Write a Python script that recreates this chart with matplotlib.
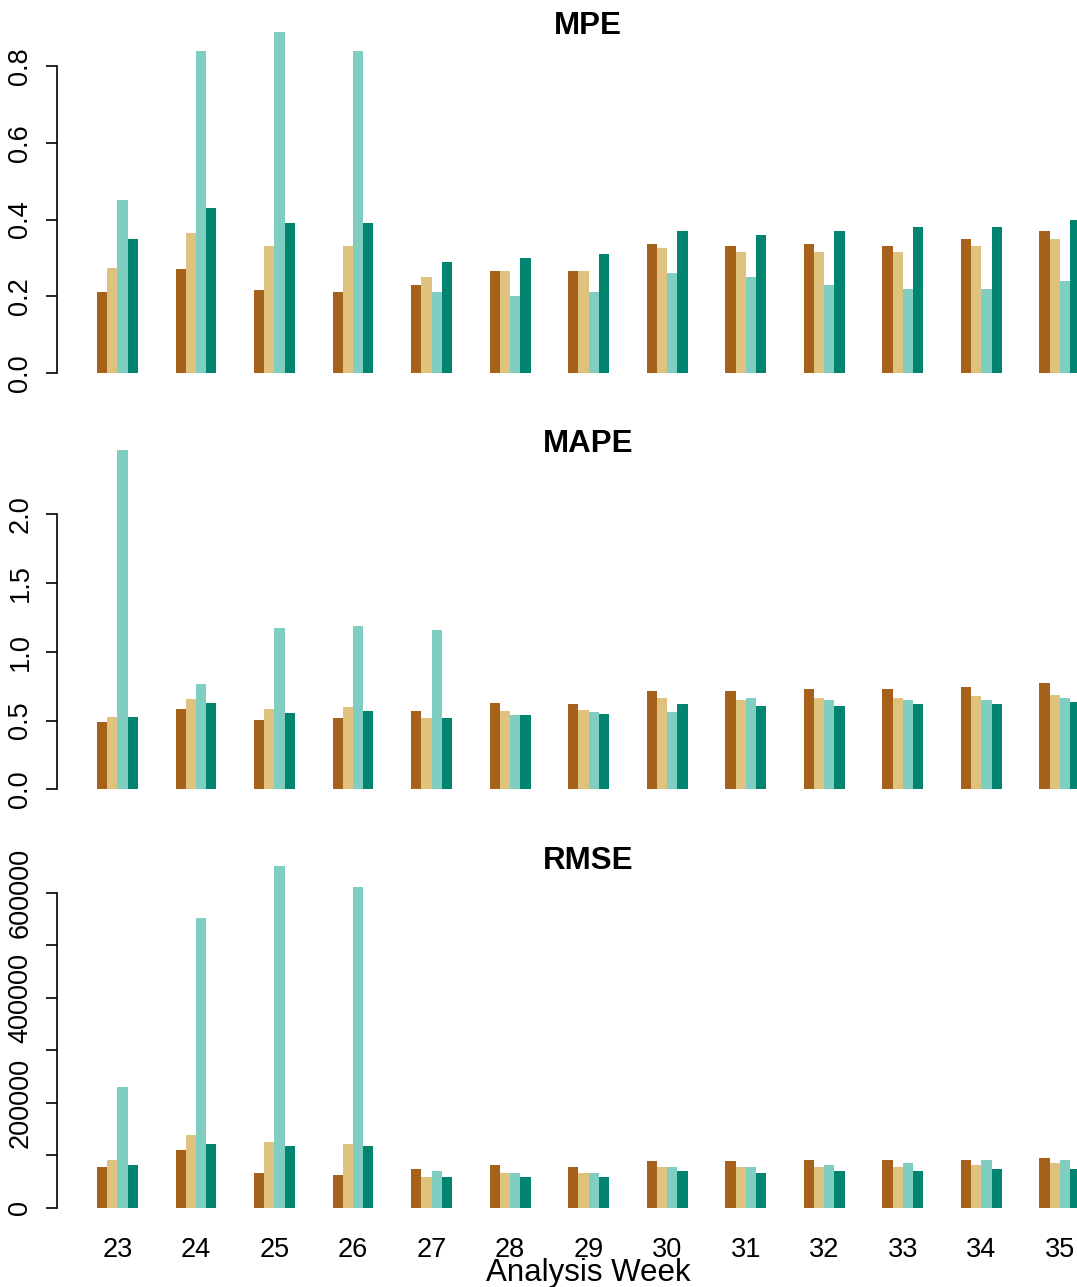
import numpy as np
import matplotlib
matplotlib.use("Agg")
import matplotlib.pyplot as plt

plt.rcParams['font.family'] = ['Liberation Sans', 'DejaVu Sans']

weeks = [23, 24, 25, 26, 27, 28, 29, 30, 31, 32, 33, 34, 35]
colors = ['#A6611A', '#DFC27D', '#80CDC1', '#018571']

# four models per week, in the order brown, tan, light teal, dark teal
mpe = [
    [0.211, 0.271, 0.216, 0.211, 0.229, 0.266, 0.266, 0.336, 0.331, 0.336, 0.331, 0.349, 0.370],
    [0.274, 0.365, 0.331, 0.331, 0.250, 0.266, 0.266, 0.326, 0.315, 0.315, 0.315, 0.331, 0.349],
    [0.451, 0.839, 0.889, 0.839, 0.211, 0.200, 0.211, 0.261, 0.250, 0.229, 0.219, 0.219, 0.240],
    [0.349, 0.430, 0.391, 0.391, 0.289, 0.300, 0.310, 0.370, 0.360, 0.370, 0.380, 0.380, 0.399],
]
mape = [
    [0.489, 0.584, 0.504, 0.519, 0.569, 0.628, 0.618, 0.713, 0.713, 0.727, 0.727, 0.742, 0.771],
    [0.526, 0.657, 0.584, 0.599, 0.519, 0.569, 0.575, 0.662, 0.647, 0.662, 0.662, 0.676, 0.684],
    [2.468, 0.766, 1.173, 1.188, 1.159, 0.541, 0.560, 0.560, 0.662, 0.647, 0.647, 0.647, 0.662],
    [0.526, 0.628, 0.555, 0.569, 0.519, 0.541, 0.545, 0.618, 0.604, 0.604, 0.618, 0.618, 0.633],
]
rmse = [
    [77500, 109900, 66100, 62300, 73700, 81300, 78000, 89500, 89500, 91400, 91400, 91400, 95200],
    [90900, 138500, 125100, 121300, 58500, 66100, 66700, 78000, 78000, 78000, 78000, 81900, 85700],
    [229900, 551800, 650900, 610900, 69900, 66100, 66700, 78000, 78000, 81900, 85700, 91400, 91400],
    [81300, 121300, 117500, 117500, 58500, 58500, 59000, 70500, 66700, 70500, 70500, 74300, 74300],
]

W, H = 1077, 1287
fig = plt.figure(figsize=(W / 100, H / 100), dpi=100)

bar_w = 1.0
step = 7.7
px_per_unit = 10.2
first_px = 97
x_left = (57 - first_px) / px_per_unit
x_right = (W - first_px) / px_per_unit

panels = [
    # title, data, zero px, px per value unit, top px, bottom px, ticks, labels, title baseline
    ("MPE", mpe, 373, 383.75, 20, 385, [0, 0.2, 0.4, 0.6, 0.8],
     ["0.0", "0.2", "0.4", "0.6", "0.8"], 34),
    ("MAPE", mape, 789.3, 137.5, 440, 800, [0, 0.5, 1.0, 1.5, 2.0],
     ["0.0", "0.5", "1.0", "1.5", "2.0"], 452),
    ("RMSE", rmse, 1207.7, 52.5 / 100000, 855, 1218,
     [0, 100000, 200000, 300000, 400000, 500000, 600000],
     ["0", "", "200000", "", "400000", "", "600000"], 869),
]

for k, (name, data, zero_px, ppu, top_px, bot_px, ticks, tlabels, tb) in enumerate(panels):
    ax = fig.add_axes([57 / W, 1 - bot_px / H, 1 - 57 / W, (bot_px - top_px) / H])
    ax.set_xlim(x_left, x_right)
    ax.set_ylim((zero_px - bot_px) / ppu, (zero_px - top_px) / ppu)
    for j in range(4):
        xs = np.arange(len(weeks)) * step + j * bar_w
        ax.bar(xs, data[j], width=bar_w, align='edge', color=colors[j], linewidth=0)
    for s in ['top', 'right', 'bottom']:
        ax.spines[s].set_visible(False)
    ax.spines['left'].set_bounds(ticks[0], ticks[-1])
    ax.spines['left'].set_linewidth(1.2)
    ax.set_yticks(ticks)
    ax.set_yticklabels(tlabels, rotation=90, va='center', fontsize=19.5)
    ax.tick_params(axis='y', length=8, width=1.2, pad=9)
    centers = np.arange(len(weeks)) * step + 2 * bar_w
    if k == 2:
        ax.set_xticks(centers)
        ax.set_xticklabels([str(w) for w in weeks], fontsize=19.5)
        ax.tick_params(axis='x', length=0, pad=(1237 - bot_px) * 0.72)
    else:
        ax.set_xticks([])
    fig.text(588 / W, 1 - tb / H, name, ha='center', va='baseline',
             fontsize=22.5, fontweight='bold')

fig.text(588 / W, 1 - 1281 / H, "Analysis Week", ha='center', va='baseline', fontsize=22.5)

fig.savefig("out.png", dpi=100)
